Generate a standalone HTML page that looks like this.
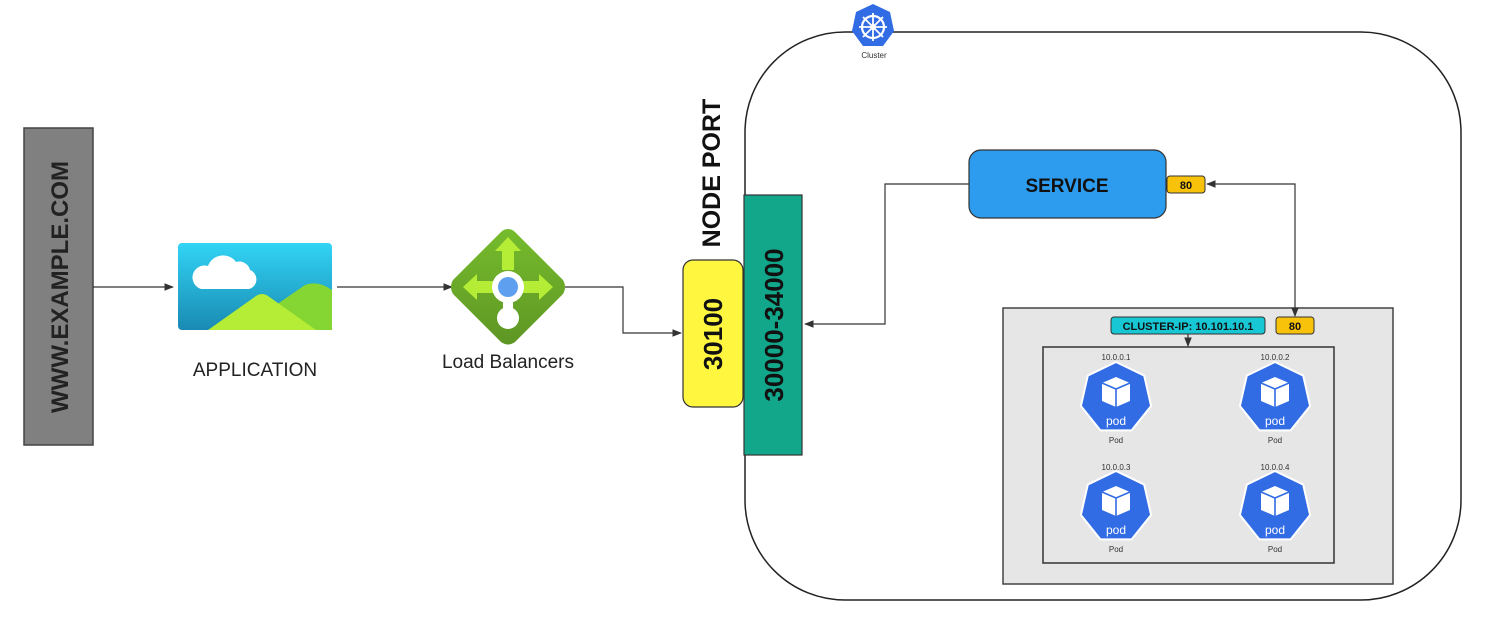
<!DOCTYPE html>
<html><head><meta charset="utf-8"><style>html,body{margin:0;padding:0;background:#fff}svg{display:block}text{font-family:"Liberation Sans",sans-serif}</style></head><body>
<svg width="1485" height="625" viewBox="0 0 1485 625" xmlns="http://www.w3.org/2000/svg">
<defs>
<marker id="ar" viewBox="0 0 10 10" refX="9" refY="5" markerWidth="8" markerHeight="8" orient="auto-start-reverse"><path d="M0,1 L10,5 L0,9 z" fill="#333"/></marker>
<linearGradient id="sky" x1="0" y1="0" x2="0" y2="1"><stop offset="0" stop-color="#32d4f5"/><stop offset="1" stop-color="#198ab3"/></linearGradient>
<linearGradient id="lbg" x1="0" y1="0" x2="0" y2="1"><stop offset="0" stop-color="#76bc2d"/><stop offset="1" stop-color="#5e9624"/></linearGradient>
<g id="pod">
<polygon points="0,-36 28.2,-22.4 35.1,8 15.6,32.4 -15.6,32.4 -35.1,8 -28.2,-22.4" fill="#326ce5" stroke="#fff" stroke-width="2"/>
<polygon points="0,-21 14,-15 14,3 0,9 -14,3 -14,-15" fill="#fff"/>
<path d="M-14,-15 L0,-9 L14,-15 M0,-9 L0,9" stroke="#326ce5" stroke-width="1.6" fill="none"/>
<text x="0" y="27" font-size="12" fill="#fff" text-anchor="middle">pod</text>
</g>
</defs>

<rect x="745" y="32" width="716" height="568" rx="100" fill="none" stroke="#222" stroke-width="1.5"/>

<rect x="24" y="128" width="69" height="317" fill="#808080" stroke="#444" stroke-width="1.5"/>
<text transform="translate(68,287) rotate(-90)" font-size="24" font-weight="bold" fill="#222" text-anchor="middle">WWW.EXAMPLE.COM</text>

<line x1="93" y1="287" x2="173" y2="287" stroke="#333" stroke-width="1.2" marker-end="url(#ar)"/>

<rect x="178" y="243" width="154" height="87" rx="4" fill="url(#sky)"/>
<path d="M201,289 H249 A10,10 0 0 0 250,270 A11,11 0 0 0 236,262 A16,16 0 0 0 208,266 A12,12 0 0 0 201,289 z" fill="#fff"/>
<path d="M292,330 L276,305 L305,285 Q318,280 332,290 L332,330 z" fill="#86d633"/>
<path d="M208,330 L256,296 Q262,292 268,296 L316,330 z" fill="#b4ec36"/>
<text x="255" y="376" font-size="19" fill="#222" text-anchor="middle">APPLICATION</text>

<line x1="337" y1="287" x2="452" y2="287" stroke="#333" stroke-width="1.2" marker-end="url(#ar)"/>

<path d="M508,229 Q512,229 515,232 L563,280 Q567,287 563,294 L515,342 Q508,347 501,342 L453,294 Q449,287 453,280 L501,232 Q504,229 508,229 z" fill="url(#lbg)"/>
<path d="M508,237 L521,251 L514,251 L514,270 L502,270 L502,251 L495,251 z" fill="#b4ec36"/>
<path d="M463,287 L477,274 L477,281 L496,281 L496,293 L477,293 L477,300 z" fill="#b4ec36"/>
<path d="M553,287 L539,274 L539,281 L520,281 L520,293 L539,293 L539,300 z" fill="#b4ec36"/>
<circle cx="508" cy="287" r="16" fill="#fff"/>
<rect x="503" y="295" width="10" height="14" fill="#fff"/>
<circle cx="508" cy="318" r="11" fill="#fff"/>
<circle cx="508" cy="287" r="10" fill="#5ea0ef"/>
<text x="508" y="368" font-size="19" fill="#222" text-anchor="middle">Load Balancers</text>

<polyline points="565,287 623,287 623,333 681,333" fill="none" stroke="#333" stroke-width="1.2" marker-end="url(#ar)"/>

<text transform="translate(720,173) rotate(-90)" font-size="25" font-weight="bold" fill="#111" text-anchor="middle">NODE PORT</text>
<rect x="683" y="260" width="60" height="147" rx="10" fill="#fff640" stroke="#333" stroke-width="1.2"/>
<text transform="translate(722,334) rotate(-90)" font-size="26" font-weight="bold" fill="#111" text-anchor="middle">30100</text>
<rect x="744" y="195" width="58" height="260" fill="#12a68a" stroke="#333" stroke-width="1.2"/>
<text transform="translate(783,325) rotate(-90)" font-size="26" font-weight="bold" fill="#111" text-anchor="middle">30000-34000</text>

<polygon points="873,4 890,12 894,31 883,46 863,46 852,31 856,12" fill="#326ce5"/>
<circle cx="873" cy="27" r="11" fill="none" stroke="#fff" stroke-width="2.2"/>
<circle cx="873" cy="27" r="3" fill="#fff"/>
<g stroke="#fff" stroke-width="1.8"><line x1="873" y1="13" x2="873" y2="41"/><line x1="859" y1="27" x2="887" y2="27"/><line x1="863" y1="17" x2="883" y2="37"/><line x1="883" y1="17" x2="863" y2="37"/></g>
<text x="874" y="58" font-size="8" fill="#333" text-anchor="middle">Cluster</text>

<rect x="969" y="150" width="197" height="68" rx="12" fill="#2d9cee" stroke="#333" stroke-width="1.2"/>
<text x="1067" y="192" font-size="19" font-weight="bold" fill="#111" text-anchor="middle">SERVICE</text>
<rect x="1167" y="176" width="38" height="17" rx="3" fill="#f8c20a" stroke="#333" stroke-width="1"/>
<text x="1186" y="189" font-size="11" font-weight="bold" fill="#111" text-anchor="middle">80</text>

<polyline points="969,184 885,184 885,324 805,324" fill="none" stroke="#333" stroke-width="1.2" marker-end="url(#ar)"/>

<rect x="1003" y="308" width="390" height="276" fill="#e6e6e6" stroke="#444" stroke-width="1.5"/>
<polyline points="1207,184 1295,184 1295,316" fill="none" stroke="#333" stroke-width="1.2" marker-start="url(#ar)" marker-end="url(#ar)"/>
<rect x="1111" y="317" width="154" height="17" rx="3" fill="#17c7d4" stroke="#333" stroke-width="1"/>
<text x="1188" y="330" font-size="11" font-weight="bold" fill="#111" text-anchor="middle">CLUSTER-IP: 10.101.10.1</text>
<rect x="1276" y="317" width="38" height="17" rx="3" fill="#f8c20a" stroke="#333" stroke-width="1"/>
<text x="1295" y="330" font-size="11" font-weight="bold" fill="#111" text-anchor="middle">80</text>
<line x1="1188" y1="334" x2="1188" y2="346" stroke="#333" stroke-width="1.2" marker-end="url(#ar)"/>
<rect x="1043" y="347" width="291" height="216" fill="#e6e6e6" stroke="#333" stroke-width="1.5"/>

<g font-size="8" fill="#333" text-anchor="middle">
<text x="1116" y="360">10.0.0.1</text><text x="1275" y="360">10.0.0.2</text>
<text x="1116" y="470">10.0.0.3</text><text x="1275" y="470">10.0.0.4</text>
<text x="1116" y="443">Pod</text><text x="1275" y="443">Pod</text>
<text x="1116" y="552">Pod</text><text x="1275" y="552">Pod</text>
</g>
<use href="#pod" x="1116" y="398"/>
<use href="#pod" x="1275" y="398"/>
<use href="#pod" x="1116" y="507"/>
<use href="#pod" x="1275" y="507"/>
</svg>
</body></html>
